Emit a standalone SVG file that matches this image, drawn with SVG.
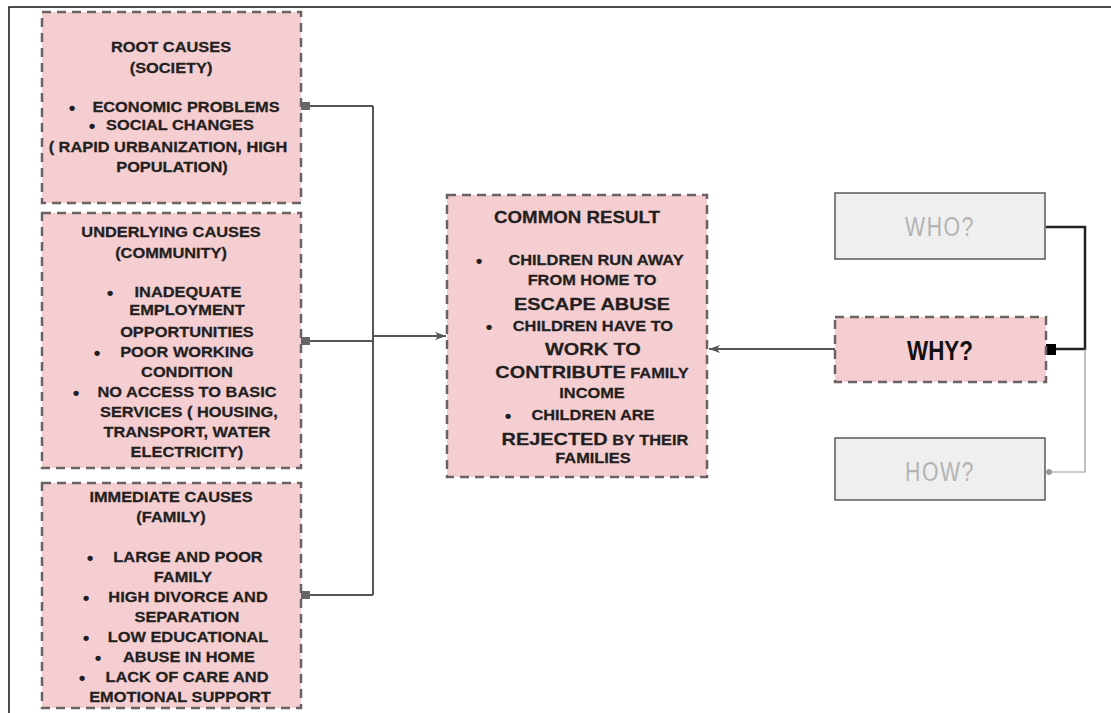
<svg xmlns="http://www.w3.org/2000/svg" width="1111" height="713" viewBox="0 0 1111 713">
<style>
.box{fill:#f5ced2;stroke:#6b6264;stroke-width:2.5;stroke-dasharray:9 6}
.gbox{fill:#efefef;stroke:#5a5a5a;stroke-width:1.5}
.t{font-family:"Liberation Sans",Arial,sans-serif;font-weight:bold;font-size:14px;fill:#231f20;text-anchor:middle;stroke:#231f20;stroke-width:0.25}
.big{font-size:17px}
.sm{font-size:14px}
.ttl{font-size:16px}
.b{font-family:"Liberation Sans",Arial,sans-serif;font-weight:bold;font-size:19px;fill:#231f20;text-anchor:middle}
.q{font-family:"Liberation Sans",Arial,sans-serif;font-size:28px;text-anchor:middle}
.c{fill:none;stroke:#555;stroke-width:2}
</style>
<defs>
<marker id="sq" markerWidth="10" markerHeight="10" refX="1" refY="5" orient="auto" markerUnits="userSpaceOnUse">
<rect x="0" y="1" width="9" height="8" fill="#666"/>
</marker>
<marker id="arr" markerWidth="12" markerHeight="10" refX="11" refY="5" orient="auto" markerUnits="userSpaceOnUse">
<path d="M0,1 L11,5 L0,9 L3,5 Z" fill="#555"/>
</marker>
<marker id="dot" markerWidth="8" markerHeight="8" refX="4" refY="4" orient="auto" markerUnits="userSpaceOnUse">
<circle cx="4" cy="4" r="3" fill="#999"/>
</marker>
</defs>
<rect width="1111" height="713" fill="#fff"/>
<path d="M9,713 V7 H1111" fill="none" stroke="#111" stroke-width="1.5"/>

<g id="connectors">
<path class="c" d="M302,106 H373" marker-start="url(#sq)"/>
<path class="c" d="M302,341 H373" marker-start="url(#sq)"/>
<path class="c" d="M302,595 H373" marker-start="url(#sq)"/>
<path class="c" d="M373,106 V595"/>
<path class="c" d="M373,336 H446" marker-end="url(#arr)"/>
<path class="c" d="M835,349 H709" marker-end="url(#arr)"/>
<path d="M1046,227 H1085 V349 H1056" fill="none" stroke="#222" stroke-width="2.5"/>
<rect x="1046" y="344" width="10" height="11" fill="#000"/>
<path d="M1085,349 V472 H1049" fill="none" stroke="#999" stroke-width="1.2" marker-end="url(#dot)"/>
</g>

<g id="root">
<rect class="box" x="42" y="12" width="259" height="191"/>
<g transform="scale(1.17,1)">
<text class="t" x="146.2" y="52">ROOT CAUSES</text>
<text class="t" x="146.2" y="73">(SOCIETY)</text>
<text class="t" x="159" y="112">ECONOMIC PROBLEMS</text>
<text class="t" x="153.8" y="130">SOCIAL CHANGES</text>
<text class="t" x="143.6" y="152">( RAPID URBANIZATION, HIGH</text>
<text class="t" x="147" y="172">POPULATION)</text>
</g>
<text class="b" x="72" y="114">•</text>
<text class="b" x="92" y="132">•</text>
</g>

<g id="underlying">
<rect class="box" x="42" y="213" width="259" height="255"/>
<g transform="scale(1.17,1)">
<text class="t" x="146.2" y="237">UNDERLYING CAUSES</text>
<text class="t" x="146.2" y="258">(COMMUNITY)</text>
<text class="t" x="160.7" y="297">INADEQUATE</text>
<text class="t" x="159.8" y="315">EMPLOYMENT</text>
<text class="t" x="159.8" y="337">OPPORTUNITIES</text>
<text class="t" x="159.8" y="357">POOR WORKING</text>
<text class="t" x="159.8" y="377">CONDITION</text>
<text class="t" x="159.8" y="397">NO ACCESS TO BASIC</text>
<text class="t" x="161.5" y="417">SERVICES ( HOUSING,</text>
<text class="t" x="159.8" y="437">TRANSPORT, WATER</text>
<text class="t" x="159.8" y="457">ELECTRICITY)</text>
</g>
<text class="b" x="110" y="299">•</text>
<text class="b" x="97" y="359">•</text>
<text class="b" x="76" y="399">•</text>
</g>

<g id="immediate">
<rect class="box" x="42" y="483" width="259" height="225"/>
<g transform="scale(1.17,1)">
<text class="t" x="146.2" y="502">IMMEDIATE CAUSES</text>
<text class="t" x="146.2" y="522">(FAMILY)</text>
<text class="t" x="160.7" y="562">LARGE AND POOR</text>
<text class="t" x="156.4" y="582">FAMILY</text>
<text class="t" x="160.7" y="602">HIGH DIVORCE AND</text>
<text class="t" x="159.8" y="622">SEPARATION</text>
<text class="t" x="160.7" y="642">LOW EDUCATIONAL</text>
<text class="t" x="161.5" y="662">ABUSE IN HOME</text>
<text class="t" x="159.8" y="682">LACK OF CARE AND</text>
<text class="t" x="153.8" y="702">EMOTIONAL SUPPORT</text>
</g>
<text class="b" x="90" y="564">•</text>
<text class="b" x="86" y="604">•</text>
<text class="b" x="86" y="644">•</text>
<text class="b" x="98" y="664">•</text>
<text class="b" x="82" y="684">•</text>
</g>

<g id="common">
<rect class="box" x="447" y="195" width="260" height="282"/>
<g transform="scale(1.17,1)">
<text class="t ttl" x="493.2" y="223">COMMON RESULT</text>
<text class="t" x="509.4" y="265">CHILDREN RUN AWAY</text>
<text class="t" x="506" y="285">FROM HOME TO</text>
<text class="t big" x="506" y="310">ESCAPE ABUSE</text>
<text class="t" x="506.8" y="331">CHILDREN HAVE TO</text>
<text class="t big" x="506.8" y="355">WORK TO</text>
<text class="t" x="506" y="378"><tspan class="big">CONTRIBUTE</tspan><tspan class="sm"> FAMILY</tspan></text>
<text class="t" x="506" y="398">INCOME</text>
<text class="t" x="506.8" y="420">CHILDREN ARE</text>
<text class="t" x="508.5" y="445"><tspan class="big">REJECTED</tspan><tspan class="sm"> BY THEIR</tspan></text>
<text class="t" x="506.8" y="463">FAMILIES</text>
</g>
<text class="b" x="479" y="267">•</text>
<text class="b" x="489" y="333">•</text>
<text class="b" x="508" y="422">•</text>
</g>

<g id="who">
<rect class="gbox" x="835" y="193" width="210" height="66"/>
<text class="q" x="0" y="0" transform="translate(940,236) scale(0.76,1)" fill="#b3b3b3" letter-spacing="2">WHO?</text>
</g>

<g id="why">
<rect class="box" x="835" y="317" width="211" height="65"/>
<text class="q" x="0" y="0" transform="translate(940,360) scale(0.8,1)" fill="#111" font-weight="bold">WHY?</text>
</g>

<g id="how">
<rect class="gbox" x="835" y="438" width="210" height="62"/>
<text class="q" x="0" y="0" transform="translate(940,481) scale(0.76,1)" fill="#b3b3b3" letter-spacing="2">HOW?</text>
</g>
</svg>
